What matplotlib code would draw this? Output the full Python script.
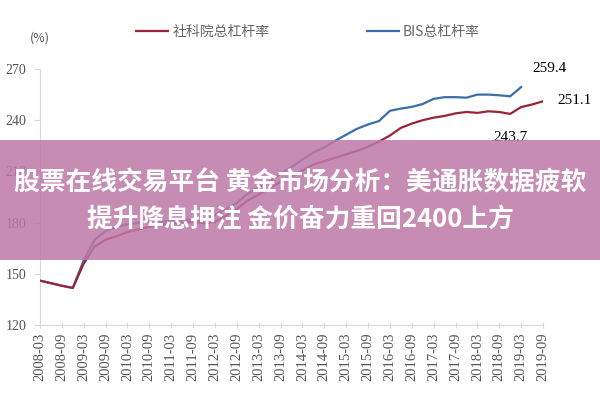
import matplotlib
matplotlib.use("Agg")
import matplotlib.pyplot as plt
from matplotlib.patches import Rectangle

plt.rcParams['font.family'] = ['Liberation Serif', 'Noto Sans CJK SC', 'DejaVu Sans']

# quarterly, 2008Q1 .. 2019Q3
quarters = list(range(47))
tick_labels = [f"{y}-{m}" for y in range(2008, 2020) for m in ("03", "09")]

# 社科院总杠杆率 (2008Q1 - 2019Q3)
cass = [146, 144.5, 143, 141.7, 156, 166, 170, 172, 174.5, 176, 177.5, 178.5,
        179.5, 180, 180.5, 179.5, 180.5, 184, 188, 193, 196.5, 200, 204, 207,
        210.5, 214, 216, 218, 220, 222, 224.5, 227.5, 231, 235.5, 238, 240,
        241.5, 242.5, 244, 244.8, 244.3, 245.2, 244.8, 243.7, 247.7, 249.2, 251.1]
# BIS总杠杆率 (2008Q1 - 2019Q1)
bis = [146, 144.5, 143, 141.7, 158, 170, 175, 177.5, 179, 180, 181, 180.5,
       181, 181.5, 182, 181, 184.5, 188, 191.5, 197, 200.5, 204, 209, 212.5,
       217, 221, 224, 228, 231.5, 235, 237.5, 239.5, 245.5, 246.8, 247.8, 249.5,
       252.5, 253.5, 253.5, 253.2, 255, 255, 254.6, 254, 259.4]

red = '#9a2339'
blue = '#3b6ea8'
grey_axis = '#d9d9d9'

fig = plt.figure(figsize=(6, 4), dpi=100)
ax = fig.add_axes([40/600, 1-325/400, 503/600, 256/400])

ax.plot(quarters, cass, color=red, lw=1.6, label='社科院总杠杆率', zorder=3)
ax.plot(quarters[:len(bis)], bis, color=blue, lw=1.6, label='BIS总杠杆率', zorder=2)

ax.set_xlim(0, 46)
ax.set_ylim(120, 270)
ax.set_yticks([120, 150, 180, 210, 240, 270])
ax.set_xticks(quarters[::2])
ax.set_xticklabels(tick_labels, rotation=90)

for s in ('top', 'right'):
    ax.spines[s].set_visible(False)
for s in ('left', 'bottom'):
    ax.spines[s].set_color(grey_axis)
ax.tick_params(axis='y', colors=grey_axis, labelcolor='#555555', labelsize=10,
               length=4, pad=6)
ax.tick_params(axis='x', colors=grey_axis, labelcolor='#555555', labelsize=10.5,
               length=5, direction='inout', pad=3)

# end labels
ax.annotate('259.4', (44, bis[44]), xytext=(28, 19), textcoords='offset pixels',
            ha='center', va='center', fontsize=11, annotation_clip=False)
ax.annotate('251.1', (46, cass[46]), xytext=(14, 1), textcoords='offset pixels',
            ha='left', va='center', fontsize=11, annotation_clip=False)
ax.annotate('243.7', (43, cass[43]), xytext=(0, -24), textcoords='offset pixels',
            ha='center', va='center', fontsize=11, annotation_clip=False)

fig.text(40/600, 1-38/400, '(%)', ha='center', va='center', fontsize=9,
         color='#555555', family=['Noto Sans CJK SC'])

leg = fig.legend(loc='center', bbox_to_anchor=(308/600, 1-32/400), ncol=2,
                 frameon=False, handlelength=2.3, handletextpad=0.3,
                 columnspacing=7.0, prop={'family': ['Noto Sans CJK SC'], 'size': 10})
for t in leg.get_texts():
    t.set_color('#666666')

# overlay banner
fig.patches.append(Rectangle((0, 1-260/400), 1, 120/400, transform=fig.transFigure,
                             facecolor=(190/255, 120/255, 167/255), alpha=0.85,
                             edgecolor='none', zorder=10))
fig.text(0.5, 1-183/400, '股票在线交易平台 黄金市场分析：美通胀数据疲软', ha='center',
         va='center', color='white', fontsize=18.5, fontweight='bold',
         family=['Noto Sans CJK SC'], zorder=11)
fig.text(0.5, 1-219/400, '提升降息押注 金价奋力重回2400上方', ha='center',
         va='center', color='white', fontsize=18.5, fontweight='bold',
         family=['Noto Sans CJK SC'], zorder=11)

fig.savefig('out.png', dpi=100)
